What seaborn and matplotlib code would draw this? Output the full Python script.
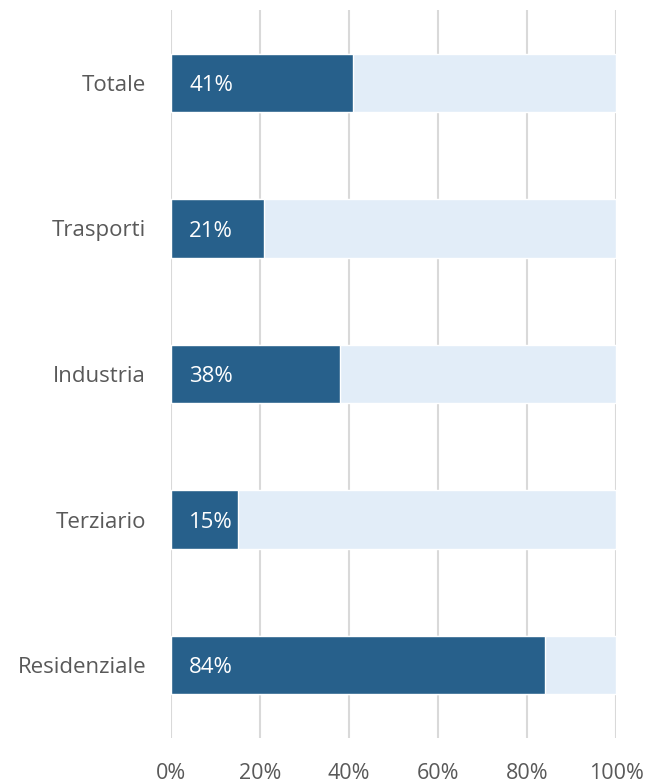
import seaborn as sns
import matplotlib.pyplot as plt
import pandas as pd

sns.set_style("white")
plt.rcParams['font.family'] = ['Open Sans', 'DejaVu Sans']

categories = ['Totale', 'Trasporti', 'Industria', 'Terziario', 'Residenziale']
shares = [41, 21, 38, 15, 84]
totals = [100, 100, 100, 100, 100]
x_ticks = [0, 20, 40, 60, 80, 100]

DARK = '#27608B'
LIGHT = '#E2EDF8'
GREY = '#595959'

df = pd.DataFrame({'categoria': categories, 'quota': shares, 'totale': totals})

fig = plt.figure(figsize=(6.48, 7.84), dpi=100)
ax = fig.add_axes([0.2639, 0.0587, 0.6867, 0.9285])

sns.barplot(data=df, y='categoria', x='totale', orient='h', color=LIGHT,
            saturation=1, width=0.4, ax=ax, zorder=2)
sns.barplot(data=df, y='categoria', x='quota', orient='h', color=DARK,
            saturation=1, width=0.4, ax=ax, zorder=3)

for i, v in enumerate(shares):
    ax.annotate(f'{v}%', xy=(0, i), xytext=(13, -2), textcoords='offset points',
                ha='left', va='center', color='white', fontsize=16, zorder=4)

ax.set_xlim(0, 100)
ax.set_ylim(4.5, -0.5)
ax.set_xticks(x_ticks)
ax.set_xticklabels([f'{t}%' for t in x_ticks])
ax.grid(axis='x', color='#D9D9D9', linewidth=1.5, zorder=0)
ax.set_axisbelow(True)
for s in ax.spines.values():
    s.set_visible(False)
ax.set_xlabel('')
ax.set_ylabel('')
ax.tick_params(axis='x', length=0, pad=18, labelsize=15.5, labelcolor=GREY)
ax.tick_params(axis='y', length=0, pad=18, labelsize=16, labelcolor=GREY)

fig.savefig('out.png', dpi=100)
